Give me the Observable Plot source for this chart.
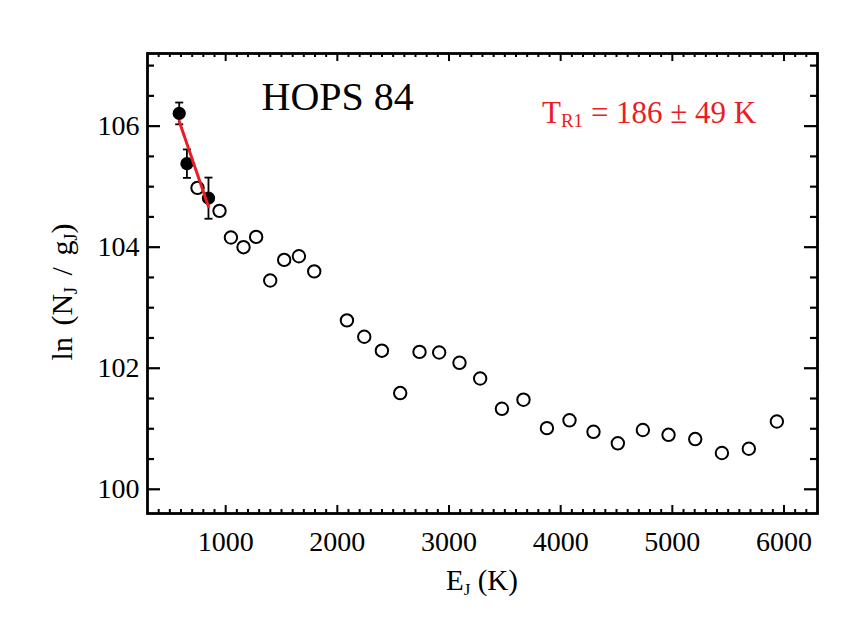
<!DOCTYPE html>
<html>
<head>
<meta charset="utf-8">
<script src="https://cdn.jsdelivr.net/npm/d3@7"></script>
<script src="https://cdn.jsdelivr.net/npm/@observablehq/plot@0.6"></script>
<style>
  html, body { margin: 0; padding: 0; background: #fff; }
  svg { font-family: "Liberation Serif", "Times New Roman", serif; }
</style>
</head>
<body>
<div id="chart"></div>
<script>
// ---- data ----
const title = "HOPS 84";
// filled points used in the fit (E_J in K, ln(N/g), 1-sigma error)
const fitE   = [584, 653, 846];
const fitLn  = [106.21, 105.38, 104.81];
const fitErr = [0.18, 0.235, 0.34];
// open points
const openE  = [748, 945, 1047, 1160, 1273, 1399, 1524, 1656, 1793, 2086, 2241, 2399, 2563, 2736, 2912, 3094, 3279, 3474, 3667, 3877, 4079, 4294, 4512, 4736, 4966, 5205, 5444, 5685, 5936];
const openLn = [104.98, 104.60, 104.16, 104.00, 104.17, 103.45, 103.79, 103.85, 103.60, 102.79, 102.52, 102.29, 101.59, 102.27, 102.26, 102.09, 101.83, 101.33, 101.48, 101.01, 101.14, 100.95, 100.76, 100.98, 100.90, 100.83, 100.60, 100.67, 101.12];
// linear fit, T_R1 = 186 K
const fitLineE  = [584, 846];
const fitLineLn = [106.08, 104.67];
// axes
const xDomain = [300, 6300];
const yDomain = [99.6, 107.2];
const xMajor = [1000, 2000, 3000, 4000, 5000, 6000];
const xMinor = d3.range(400, 6300, 100).filter(v => v % 1000 !== 0);
const yMajor = [100, 102, 104, 106];
const yMinor = [100.5, 101, 101.5, 102.5, 103, 103.5, 104.5, 105, 105.5, 106.5, 107];

const red = "#ec1c24";
const W = 866, H = 618;
const mL = 147, mR = 49, mT = 53, mB = 105;
const pH = H - mT - mB;
const pW = W - mL - mR;

const openPts = openE.map((e, i) => ({E: e, ln: openLn[i]}));
const fitPts = fitE.map((e, i) => ({E: e, ln: fitLn[i], lo: fitLn[i] - fitErr[i], hi: fitLn[i] + fitErr[i]}));
const linePts = fitLineE.map((e, i) => ({E: e, ln: fitLineLn[i]}));

const cap = { draw(context, size) { const w = Math.sqrt(size / Math.PI); context.moveTo(-w, 0); context.lineTo(w, 0); } };

const svg = Plot.plot({
  width: W, height: H,
  marginLeft: mL, marginRight: mR, marginTop: mT, marginBottom: mB,
  style: {fontFamily: "Liberation Serif, serif", background: "#fff", color: "#000"},
  x: {domain: xDomain, axis: null, label: null},
  y: {domain: yDomain, axis: null, label: null},
  marks: [
    // tick labels
    Plot.axisX(xMajor, {anchor: "bottom", label: null, tickSize: 0, tickPadding: 18, fontSize: 28, tickFormat: d => String(d)}),
    Plot.axisY(yMajor, {anchor: "left", label: null, tickSize: 0, tickPadding: 8, fontSize: 28, tickFormat: d => String(d)}),
    // inward ticks, bottom & top
    Plot.tickX(xMajor, {x: d => d, insetTop: pH - 8, strokeWidth: 2}),
    Plot.tickX(xMinor, {x: d => d, insetTop: pH - 4, strokeWidth: 2}),
    Plot.tickX(xMajor, {x: d => d, insetBottom: pH - 8, strokeWidth: 2}),
    Plot.tickX(xMinor, {x: d => d, insetBottom: pH - 4, strokeWidth: 2}),
    // inward ticks, left & right
    Plot.tickY(yMajor, {y: d => d, insetRight: pW - 13, strokeWidth: 2.2}),
    Plot.tickY(yMinor, {y: d => d, insetRight: pW - 7, strokeWidth: 2.2}),
    Plot.tickY(yMajor, {y: d => d, insetLeft: pW - 13, strokeWidth: 2.2}),
    Plot.tickY(yMinor, {y: d => d, insetLeft: pW - 7, strokeWidth: 2.2}),
    Plot.frame({stroke: "#000", strokeWidth: 2.8}),
    // data
    Plot.dot(openPts, {x: "E", y: "ln", r: 6.2, stroke: "#000", strokeWidth: 2, fill: "none"}),
    Plot.ruleX(fitPts, {x: "E", y1: "lo", y2: "hi", stroke: "#000", strokeWidth: 1.8}),
    Plot.dot(fitPts, {x: "E", y: "lo", symbol: cap, r: 4, stroke: "#000", strokeWidth: 1.8, fill: "none"}),
    Plot.dot(fitPts, {x: "E", y: "hi", symbol: cap, r: 4, stroke: "#000", strokeWidth: 1.8, fill: "none"}),
    Plot.dot(fitPts, {x: "E", y: "ln", r: 6.6, fill: "#000", stroke: "none"}),
    Plot.line(linePts, {x: "E", y: "ln", stroke: red, strokeWidth: 3}),
    Plot.text([title], {frameAnchor: "top-left", dx: 114, dy: 28, text: d => d, fontSize: 40, fill: "#000", textAnchor: "start", lineAnchor: "top"})
  ]
});

const s = d3.select(svg);
// red annotation with subscript
const t1 = s.append("text").attr("x", 542).attr("y", 123).attr("text-anchor", "start").attr("fill", red).attr("font-size", 31);
t1.append("tspan").text("T");
t1.append("tspan").attr("font-size", 19).attr("dy", 4).text("R1");
t1.append("tspan").attr("dy", -4).text(" = 186 ± 49 K");

// x label
const xl = s.append("text").attr("x", mL + pW / 2).attr("y", 590).attr("text-anchor", "middle").attr("font-size", 29).attr("fill", "#000");
xl.append("tspan").text("E");
xl.append("tspan").attr("font-size", 17).attr("dy", 5).text("J");
xl.append("tspan").attr("dy", -5).text(" (K)");

// y label
const yl = s.append("text").attr("transform", `translate(72,292) rotate(-90)`).attr("text-anchor", "middle").attr("font-size", 30).attr("word-spacing", 4).attr("fill", "#000");
yl.append("tspan").text("ln (N");
yl.append("tspan").attr("font-size", 18).attr("dy", 5).text("J");
yl.append("tspan").attr("dy", -5).text(" / g");
yl.append("tspan").attr("font-size", 18).attr("dy", 5).text("J");
yl.append("tspan").attr("dy", -5).text(")");

document.getElementById("chart").appendChild(svg);
</script>
</body>
</html>
